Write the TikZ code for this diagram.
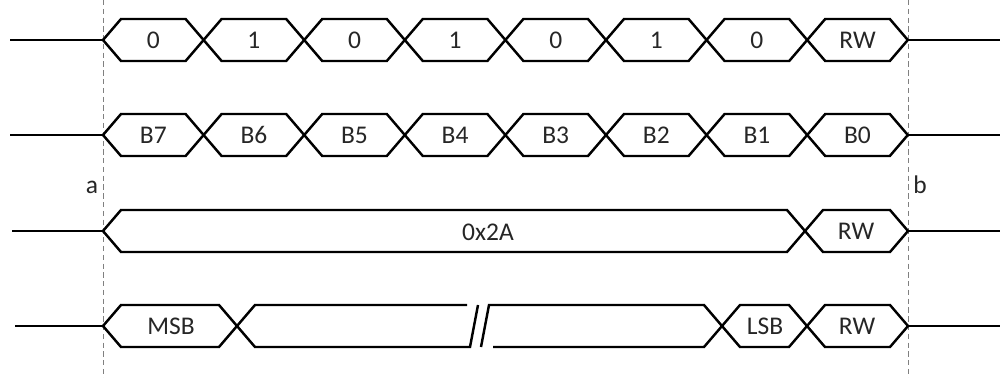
\documentclass[tikz,border=0pt]{standalone}
\usepackage{fontspec}
\setmainfont{Carlito}
% one bus cell: left crossing, right crossing, centre line
\newcommand\buscell[3]{%
  \draw[wire] (#1,#3) -- ({#1+18},{#3-21}) -- ({#2-18},{#3-21}) -- (#2,#3)
    -- ({#2-18},{#3+21}) -- ({#1+18},{#3+21}) -- cycle;}
\begin{document}
\begin{tikzpicture}[x=0.02cm, y=-0.02cm,
  every node/.style={font=\fontsize{14.5}{16}\selectfont, inner sep=0pt,
    text height=9.4pt, text depth=0pt, text=black!85},
  wire/.style={line width=1.4pt, line join=miter},
  marker/.style={gray, dash pattern=on 3pt off 2pt, line width=0.5pt}]
  \useasboundingbox (0,0) rectangle (1000,378);

  % markers a and b
  \draw[marker] (103,0) -- (103,378);
  \draw[marker] (908,0) -- (908,378);
  \node (a) at (92,185) {a};
  \node (b) at (920,185) {b};

  % idle lines
  \foreach \yc/\xs [count=\r] in {40/10, 135/10, 231/12, 326/15} {
    \coordinate (r\r-l) at (\xs,\yc);
    \coordinate (r\r-a) at (103,\yc);
    \coordinate (r\r-b) at (908,\yc);
    \coordinate (r\r-r) at (1000,\yc);
    \draw[wire] (r\r-l) -- (r\r-a);
    \draw[wire] (r\r-b) -- (r\r-r);
  }

  % row 1: address bits
  \foreach \lbl [count=\i from 0] in {0,1,0,1,0,1,0,RW} {
    \pgfmathsetmacro\xl{103+100.6*\i}
    \pgfmathsetmacro\xr{103+100.6*(\i+1)}
    \buscell{\xl}{\xr}{40}
    \node (bit-\i) at ({(\xl+\xr)/2},40) {\lbl};
  }

  % row 2: bit names
  \foreach \lbl [count=\i from 0] in {B7,B6,B5,B4,B3,B2,B1,B0} {
    \pgfmathsetmacro\xl{103+100.6*\i}
    \pgfmathsetmacro\xr{103+100.6*(\i+1)}
    \buscell{\xl}{\xr}{135}
    \node (name-\i) at ({(\xl+\xr)/2},135) {\lbl};
  }

  % row 3: address value
  \buscell{103}{805}{231}
  \buscell{805}{908}{231}
  \node (addr) at (488,232) {0x2A};
  \node (rw3) at (856,231) {RW};

  % row 4: msb ... lsb
  \buscell{103}{237}{326}
  \draw[wire] (467,305) -- (255,305) -- (237,326) -- (255,347) -- (470,347) -- (478,305);
  \draw[wire] (481,347) -- (489,305) -- (704,305) -- (722,326) -- (704,347) -- (493,347);
  \buscell{722}{807}{326}
  \buscell{807}{908}{326}
  \node (msb) at (171,326) {MSB};
  \node (lsb) at (765,326) {LSB};
  \node (rw4) at (857,326) {RW};
\end{tikzpicture}
\end{document}
